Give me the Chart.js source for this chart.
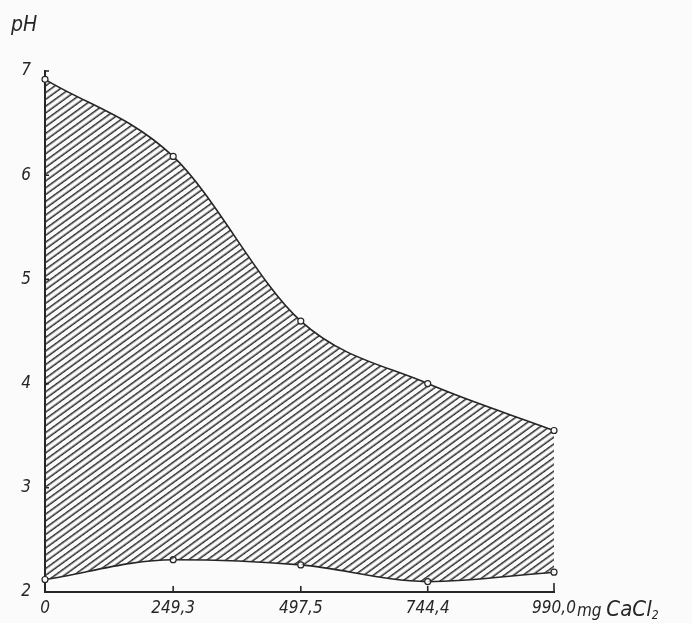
<!DOCTYPE html>
<html>
<head>
<meta charset="utf-8">
<script src="https://cdn.jsdelivr.net/npm/chart.js@4/dist/chart.umd.min.js"></script>
<style>
  html, body { margin: 0; padding: 0; background: #fbfbfb; }
  #wrap { width: 692px; height: 623px; position: relative; }
</style>
</head>
<body>
<div id="wrap"><canvas id="c" width="692" height="623"></canvas></div>
<script>
// ---- data ----
const doseValues = [0, 249.3, 497.5, 744.4, 990.0];
const xTickLabels = ['0', '249,3', '497,5', '744,4', '990,0'];
const upperPH = [6.92, 6.18, 4.60, 4.00, 3.55];
const lowerPH = [2.12, 2.31, 2.26, 2.10, 2.19];
const yTickValues = [2, 3, 4, 5, 6, 7];
const yAxisTitle = 'pH';
const xUnitText = 'mg CaCl';
const xUnitSub = '2';

const INK = '#262626';
const FONT_FAMILY = '"DejaVu Sans Condensed", "Liberation Sans Narrow", "DejaVu Sans", sans-serif';

// hatch pattern
function makeHatch(ctx) {
  const tile = document.createElement('canvas');
  tile.width = 4; tile.height = 11;
  const t = tile.getContext('2d');
  t.strokeStyle = '#2a2a2a';
  t.lineWidth = 1.5;
  t.beginPath();
  t.moveTo(0, 2.75); t.lineTo(4, 2.75);
  t.moveTo(0, 8.25); t.lineTo(4, 8.25);
  t.stroke();
  const p = ctx.createPattern(tile, 'repeat');
  p.setTransform(new DOMMatrix().rotateSelf(-36));
  return p;
}

const canvas = document.getElementById('c');
const ctx0 = canvas.getContext('2d');
const hatch = makeHatch(ctx0);

const decorPlugin = {
  id: 'decor',
  afterDraw(chart) {
    const ctx = chart.ctx;
    const xs = chart.scales.x, ys = chart.scales.y;
    const bottom = ys.getPixelForValue(2);
    const left = xs.getPixelForValue(0);
    ctx.save();
    ctx.strokeStyle = INK;
    ctx.lineWidth = 1.6;
    ctx.beginPath();
    doseValues.forEach((v, i) => {
      const px = xs.getPixelForValue(v);
      const len = i === doseValues.length - 1 ? 9 : 6;
      ctx.moveTo(px, bottom); ctx.lineTo(px, bottom - len);
    });
    yTickValues.forEach(v => {
      if (v === 2) return;
      const py = ys.getPixelForValue(v);
      ctx.moveTo(left, py); ctx.lineTo(left + 4, py);
    });
    ctx.stroke();
    // axis label pH
    ctx.fillStyle = INK;
    ctx.font = 'italic 21px ' + FONT_FAMILY;
    ctx.textBaseline = 'alphabetic';
    ctx.textAlign = 'left';
    ctx.fillText(yAxisTitle, 11, 31);
    // unit after last x label
    ctx.font = 'italic 17px ' + FONT_FAMILY;
    const lastPx = xs.getPixelForValue(doseValues[doseValues.length - 1]);
    const w = ctx.measureText(xTickLabels[xTickLabels.length - 1]).width;
    let ux = lastPx + w / 2 + 1;
    const baseY = 616;
    ctx.font = 'italic 17px ' + FONT_FAMILY;
    ctx.fillText('mg', ux, baseY);
    ux += ctx.measureText('mg ').width;
    ctx.font = 'italic 22px ' + FONT_FAMILY;
    ctx.fillText('CaCl', ux, baseY);
    ux += ctx.measureText('CaCl').width;
    ctx.font = 'italic 12px ' + FONT_FAMILY;
    ctx.fillText(xUnitSub, ux, baseY + 3);
    ctx.restore();
  }
};

const common = {
  borderColor: INK,
  borderWidth: 1.6,
  tension: 0.4,
  cubicInterpolationMode: 'monotone',
  pointRadius: 3,
  pointBorderWidth: 1.2,
  pointBackgroundColor: '#fbfbfb',
  pointBorderColor: INK,
  clip: false
};

new Chart(canvas, {
  type: 'line',
  data: {
    datasets: [
      Object.assign({
        label: 'upper',
        data: doseValues.map((x, i) => ({ x, y: upperPH[i] })),
        backgroundColor: hatch,
        fill: '+1'
      }, common),
      Object.assign({
        label: 'lower',
        data: doseValues.map((x, i) => ({ x, y: lowerPH[i] })),
        fill: false
      }, common)
    ]
  },
  options: {
    responsive: false,
    animation: false,
    devicePixelRatio: 1,
    layout: { padding: { left: 0, right: 138, top: 71, bottom: 0 } },
    plugins: { legend: { display: false }, tooltip: { enabled: false } },
    scales: {
      x: {
        type: 'linear',
        min: 0, max: 990,
        afterBuildTicks: s => { s.ticks = doseValues.map(v => ({ value: v })); },
        afterFit: s => { s.height = 31; },
        grid: { drawOnChartArea: false, drawTicks: false, color: 'transparent' },
        border: { display: true, color: INK, width: 2 },
        ticks: {
          padding: 6,
          color: INK,
          maxRotation: 0,
          autoSkip: false,
          font: { family: FONT_FAMILY, size: 17, style: 'italic' },
          callback: (v, i) => xTickLabels[i]
        }
      },
      y: {
        type: 'linear',
        min: 2, max: 7,
        afterBuildTicks: s => { s.ticks = yTickValues.map(v => ({ value: v })); },
        afterFit: s => { s.width = 45; },
        grid: { drawOnChartArea: false, drawTicks: false, color: 'transparent' },
        border: { display: true, color: INK, width: 2 },
        ticks: {
          padding: 14,
          color: INK,
          font: { family: FONT_FAMILY, size: 17, style: 'italic' },
          callback: v => String(v)
        }
      }
    }
  },
  plugins: [decorPlugin]
});
</script>
</body>
</html>
